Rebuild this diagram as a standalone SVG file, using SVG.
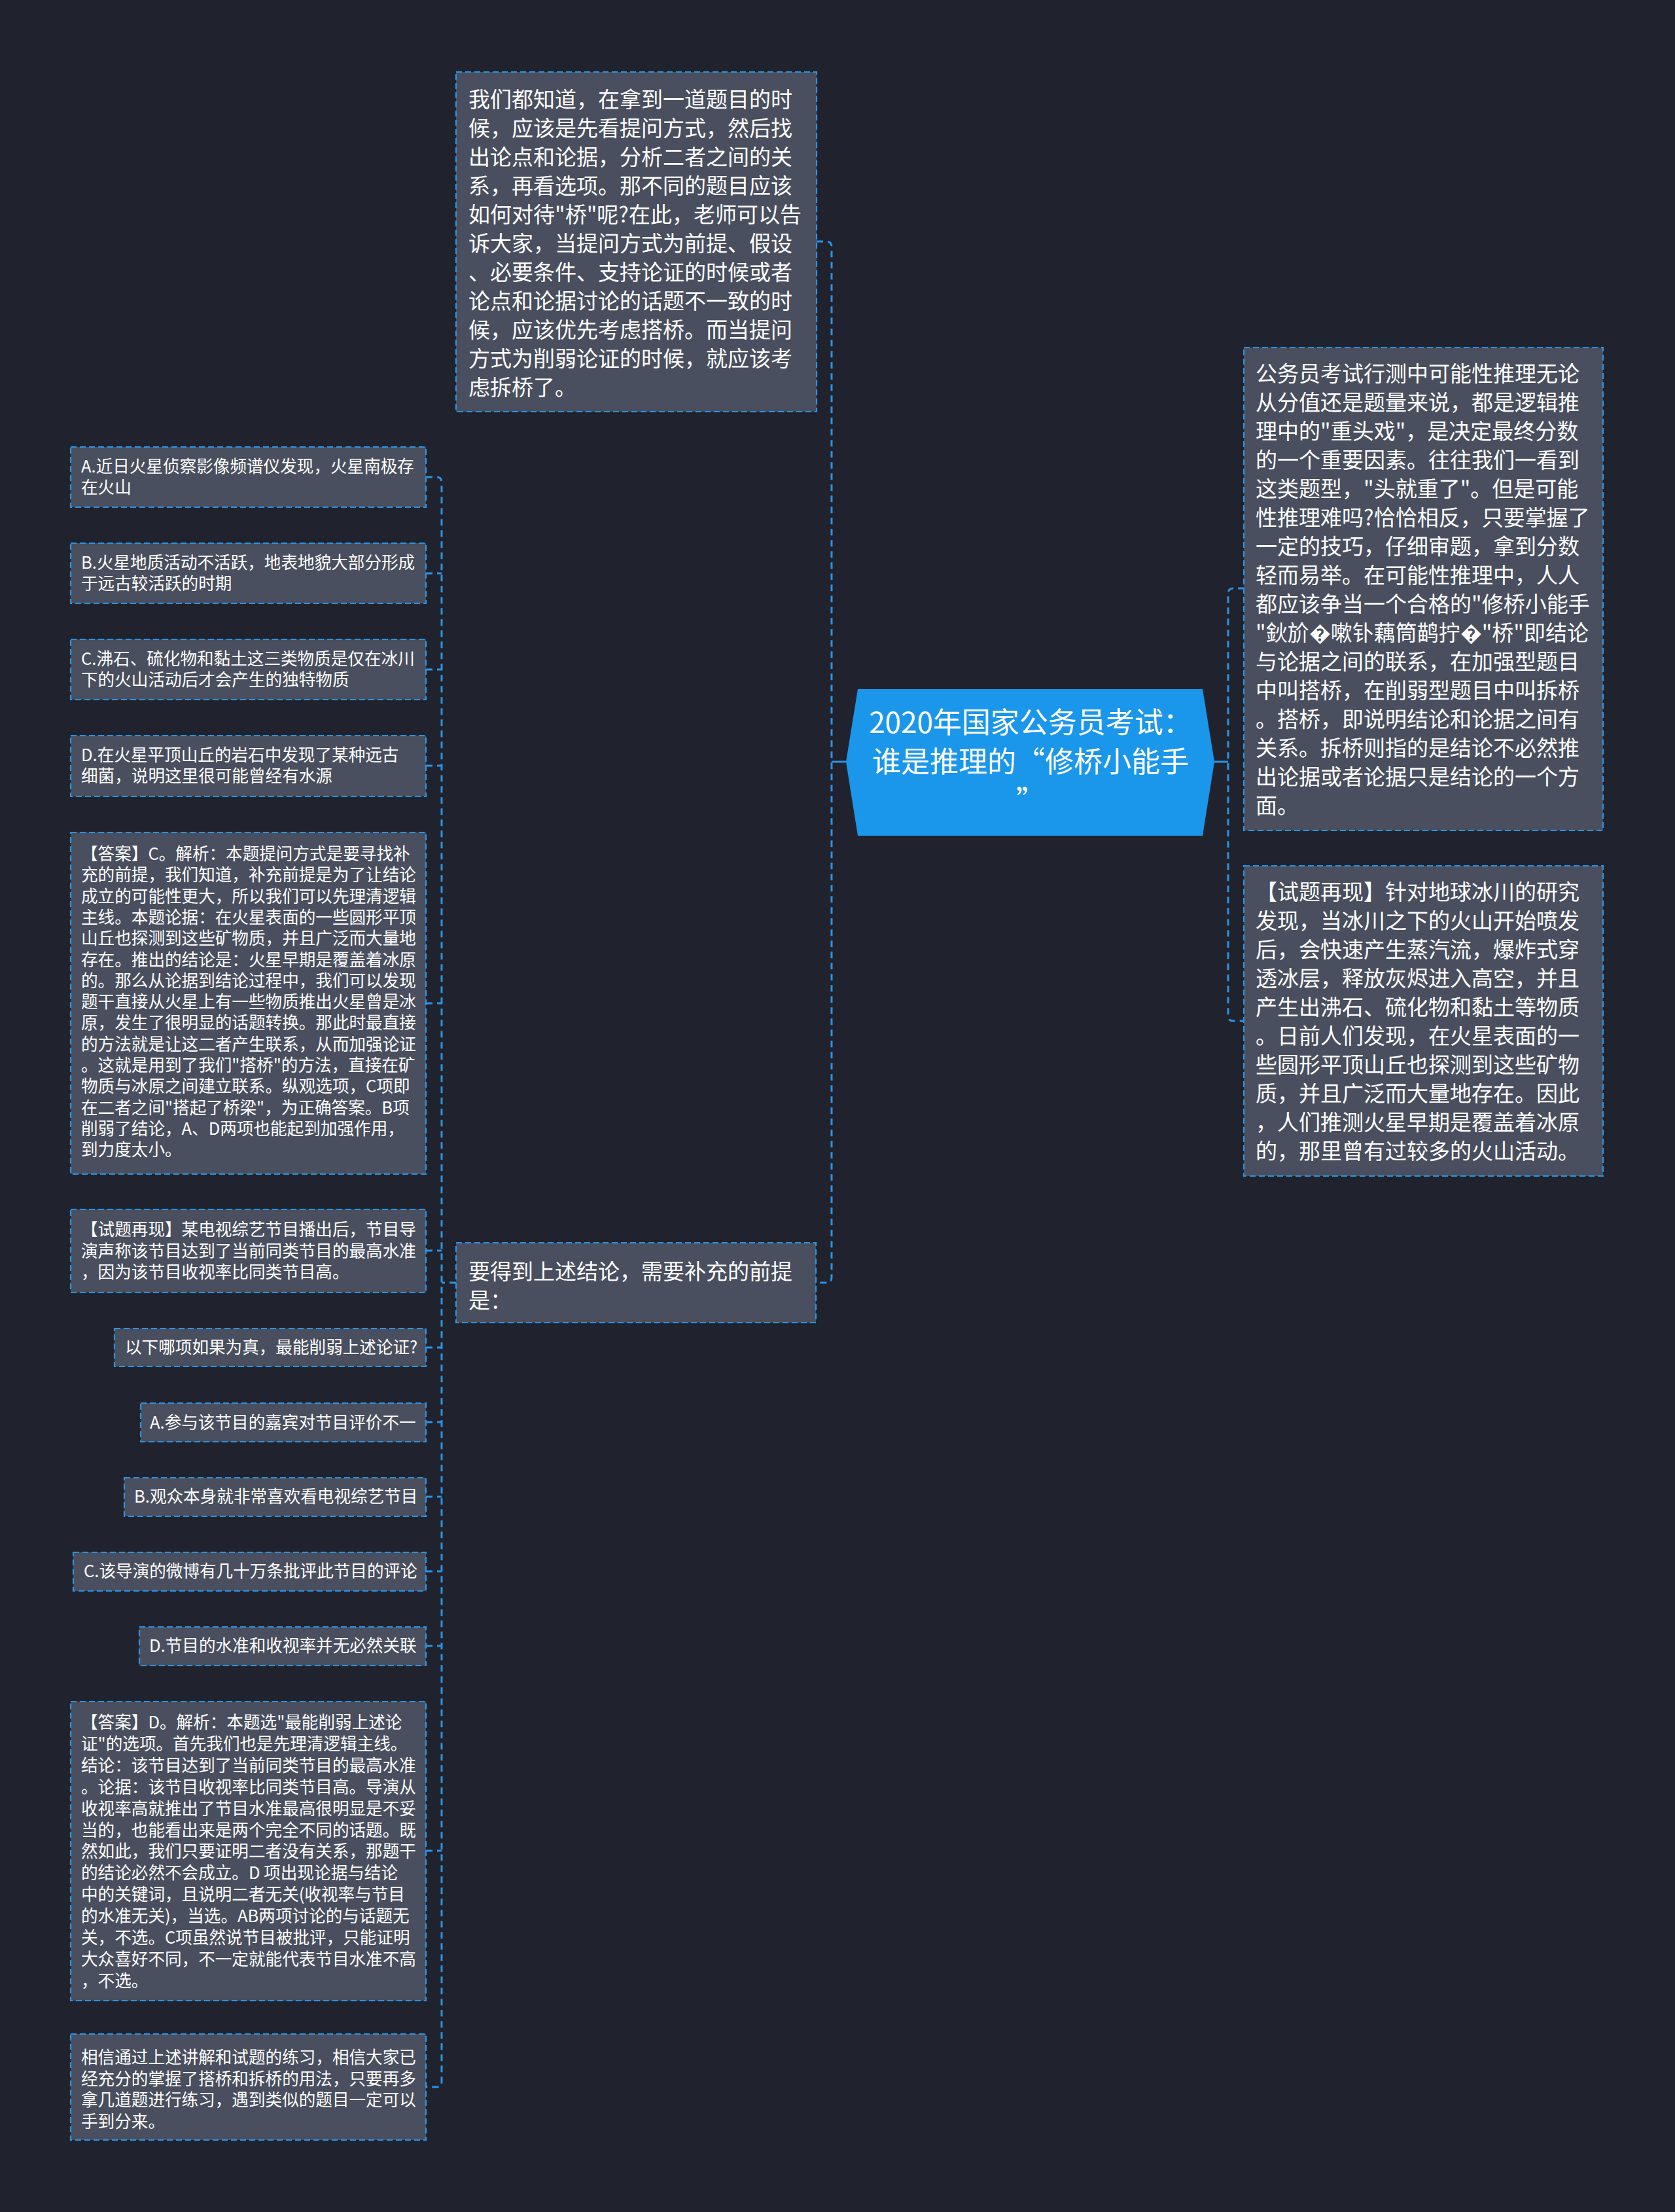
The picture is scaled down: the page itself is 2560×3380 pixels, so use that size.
<svg xmlns="http://www.w3.org/2000/svg" width="2560" height="3380" viewBox="0 0 2560 3380">
<style>
.bg{fill:#20232e}
.box{fill:#494f5e;stroke:#2a94e6;stroke-width:2.2;stroke-dasharray:9 5}
.t{fill:#ffffff;font-family:"Noto Sans CJK SC","Liberation Sans",sans-serif}
.s{font-size:25.6px}
.l{font-size:33px}
.c{font-size:44px;text-anchor:middle}
.conn{fill:none;stroke:#2a94e6;stroke-width:3;stroke-dasharray:10 7}
.solid{fill:none;stroke:#2a94e6;stroke-width:3}
</style>
<rect class="bg" x="0" y="0" width="2560" height="3380"/>

<g id="connectors">
  <path class="solid" d="M1293 1164 H1271"/>
  <path class="conn" d="M1248 369 H1263 Q1271 369 1271 377 V1952 Q1271 1960 1263 1960 H1248"/>
  <path class="solid" d="M1856 1164 H1877"/>
  <path class="conn" d="M1902 899 H1885 Q1877 899 1877 907 V1552 Q1877 1560 1885 1560 H1902"/>
  <path class="conn" d="M697 1960 H675"/>
  <path class="conn" d="M651 729 H667 Q675 729 675 737 V3181 Q675 3189 667 3189 H651"/>
  <path class="conn" d="M651 876 H675 M651 1023 H675 M651 1170 H675 M651 1533 H675 M651 1911 H675 M651 2059 H675 M651 2173 H675 M651 2287 H675 M651 2401 H675 M651 2515 H675 M651 2828 H675"/>
</g>

<g id="center">
  <polygon points="1293,1164 1311,1053 1838,1053 1856,1164 1838,1277 1311,1277" fill="#1a96ea"/>
  <text class="t c"><tspan x="1575" y="1120">2020年国家公务员考试：</tspan><tspan x="1575" y="1180">谁是推理的“修桥小能手</tspan><tspan x="1575" y="1240">”</tspan></text>
</g>

<g id="n-intro">
  <rect class="box" x="697" y="110" width="551" height="519"/>
  <text class="t l"><tspan x="716" y="164">我们都知道，在拿到一道题目的时</tspan><tspan x="716" y="208">候，应该是先看提问方式，然后找</tspan><tspan x="716" y="252">出论点和论据，分析二者之间的关</tspan><tspan x="716" y="296">系，再看选项。那不同的题目应该</tspan><tspan x="716" y="340">如何对待"桥"呢?在此，老师可以告</tspan><tspan x="716" y="384">诉大家，当提问方式为前提、假设</tspan><tspan x="716" y="428">、必要条件、支持论证的时候或者</tspan><tspan x="716" y="472">论点和论据讨论的话题不一致的时</tspan><tspan x="716" y="516">候，应该优先考虑搭桥。而当提问</tspan><tspan x="716" y="560">方式为削弱论证的时候，就应该考</tspan><tspan x="716" y="604">虑拆桥了。</tspan></text>
</g>

<g id="n-right1">
  <rect class="box" x="1901" y="531" width="549" height="738"/>
  <text class="t l"><tspan x="1919" y="583">公务员考试行测中可能性推理无论</tspan><tspan x="1919" y="627">从分值还是题量来说，都是逻辑推</tspan><tspan x="1919" y="671">理中的"重头戏"，是决定最终分数</tspan><tspan x="1919" y="715">的一个重要因素。往往我们一看到</tspan><tspan x="1919" y="759">这类题型，"头就重了"。但是可能</tspan><tspan x="1919" y="803">性推理难吗?恰恰相反，只要掌握了</tspan><tspan x="1919" y="847">一定的技巧，仔细审题，拿到分数</tspan><tspan x="1919" y="891">轻而易举。在可能性推理中，人人</tspan><tspan x="1919" y="935">都应该争当一个合格的"修桥小能手</tspan><tspan x="1919" y="979">"鈥斺�嗽钋藕筒鹋拧�"桥"即结论</tspan><tspan x="1919" y="1023">与论据之间的联系，在加强型题目</tspan><tspan x="1919" y="1067">中叫搭桥，在削弱型题目中叫拆桥</tspan><tspan x="1919" y="1111">。搭桥，即说明结论和论据之间有</tspan><tspan x="1919" y="1155">关系。拆桥则指的是结论不必然推</tspan><tspan x="1919" y="1199">出论据或者论据只是结论的一个方</tspan><tspan x="1919" y="1243">面。</tspan></text>
</g>

<g id="n-right2">
  <rect class="box" x="1901" y="1323" width="549" height="474"/>
  <text class="t l"><tspan x="1919" y="1375">【试题再现】针对地球冰川的研究</tspan><tspan x="1919" y="1419">发现，当冰川之下的火山开始喷发</tspan><tspan x="1919" y="1463">后，会快速产生蒸汽流，爆炸式穿</tspan><tspan x="1919" y="1507">透冰层，释放灰烬进入高空，并且</tspan><tspan x="1919" y="1551">产生出沸石、硫化物和黏土等物质</tspan><tspan x="1919" y="1595">。日前人们发现，在火星表面的一</tspan><tspan x="1919" y="1639">些圆形平顶山丘也探测到这些矿物</tspan><tspan x="1919" y="1683">质，并且广泛而大量地存在。因此</tspan><tspan x="1919" y="1727">，人们推测火星早期是覆盖着冰原</tspan><tspan x="1919" y="1771">的，那里曾有过较多的火山活动。</tspan></text>
</g>

<g id="n-premise">
  <rect class="box" x="697" y="1899" width="550" height="122"/>
  <text class="t l"><tspan x="716" y="1955">要得到上述结论，需要补充的前提</tspan><tspan x="716" y="1999">是：</tspan></text>
</g>

<g id="n-optA">
  <rect class="box" x="108" y="683" width="543" height="92"/>
  <text class="t s"><tspan x="124" y="722">A.近日火星侦察影像频谱仪发现，火星南极存</tspan><tspan x="124" y="754">在火山</tspan></text>
</g>
<g id="n-optB">
  <rect class="box" x="108" y="830" width="543" height="92"/>
  <text class="t s"><tspan x="124" y="869">B.火星地质活动不活跃，地表地貌大部分形成</tspan><tspan x="124" y="901">于远古较活跃的时期</tspan></text>
</g>
<g id="n-optC">
  <rect class="box" x="108" y="977" width="543" height="92"/>
  <text class="t s"><tspan x="124" y="1016">C.沸石、硫化物和黏土这三类物质是仅在冰川</tspan><tspan x="124" y="1048">下的火山活动后才会产生的独特物质</tspan></text>
</g>
<g id="n-optD">
  <rect class="box" x="108" y="1124" width="543" height="93"/>
  <text class="t s"><tspan x="124" y="1163">D.在火星平顶山丘的岩石中发现了某种远古</tspan><tspan x="124" y="1195">细菌，说明这里很可能曾经有水源</tspan></text>
</g>

<g id="n-answer1">
  <rect class="box" x="108" y="1272" width="543" height="522"/>
  <text class="t s"><tspan x="124" y="1314">【答案】C。解析：本题提问方式是要寻找补</tspan><tspan x="124" y="1346.3">充的前提，我们知道，补充前提是为了让结论</tspan><tspan x="124" y="1378.6">成立的可能性更大，所以我们可以先理清逻辑</tspan><tspan x="124" y="1410.9">主线。本题论据：在火星表面的一些圆形平顶</tspan><tspan x="124" y="1443.2">山丘也探测到这些矿物质，并且广泛而大量地</tspan><tspan x="124" y="1475.5">存在。推出的结论是：火星早期是覆盖着冰原</tspan><tspan x="124" y="1507.8">的。那么从论据到结论过程中，我们可以发现</tspan><tspan x="124" y="1540.1">题干直接从火星上有一些物质推出火星曾是冰</tspan><tspan x="124" y="1572.4">原，发生了很明显的话题转换。那此时最直接</tspan><tspan x="124" y="1604.7">的方法就是让这二者产生联系，从而加强论证</tspan><tspan x="124" y="1637">。这就是用到了我们"搭桥"的方法，直接在矿</tspan><tspan x="124" y="1669.3">物质与冰原之间建立联系。纵观选项，C项即</tspan><tspan x="124" y="1701.6">在二者之间"搭起了桥梁"，为正确答案。B项</tspan><tspan x="124" y="1733.9">削弱了结论，A、D两项也能起到加强作用，</tspan><tspan x="124" y="1766.2">到力度太小。</tspan></text>
</g>

<g id="n-question2">
  <rect class="box" x="108" y="1848" width="543" height="127"/>
  <text class="t s"><tspan x="124" y="1888">【试题再现】某电视综艺节目播出后，节目导</tspan><tspan x="124" y="1921">演声称该节目达到了当前同类节目的最高水准</tspan><tspan x="124" y="1953">，因为该节目收视率比同类节目高。</tspan></text>
</g>

<g id="n-ask">
  <rect class="box" x="175" y="2030" width="476" height="58"/>
  <text class="t s" x="191" y="2068">以下哪项如果为真，最能削弱上述论证?</text>
</g>
<g id="n-opt2A">
  <rect class="box" x="215" y="2144" width="436" height="59"/>
  <text class="t s" x="229" y="2183">A.参与该节目的嘉宾对节目评价不一</text>
</g>
<g id="n-opt2B">
  <rect class="box" x="190" y="2258" width="461" height="59"/>
  <text class="t s" x="205" y="2296">B.观众本身就非常喜欢看电视综艺节目</text>
</g>
<g id="n-opt2C">
  <rect class="box" x="112" y="2372" width="539" height="59"/>
  <text class="t s" x="128" y="2410">C.该导演的微博有几十万条批评此节目的评论</text>
</g>
<g id="n-opt2D">
  <rect class="box" x="213" y="2486" width="438" height="59"/>
  <text class="t s" x="228" y="2524">D.节目的水准和收视率并无必然关联</text>
</g>

<g id="n-answer2">
  <rect class="box" x="108" y="2600" width="543" height="457"/>
  <text class="t s"><tspan x="124" y="2641">【答案】D。解析：本题选"最能削弱上述论</tspan><tspan x="124" y="2673.9">证"的选项。首先我们也是先理清逻辑主线。</tspan><tspan x="124" y="2706.8">结论：该节目达到了当前同类节目的最高水准</tspan><tspan x="124" y="2739.7">。论据：该节目收视率比同类节目高。导演从</tspan><tspan x="124" y="2772.6">收视率高就推出了节目水准最高很明显是不妥</tspan><tspan x="124" y="2805.5">当的，也能看出来是两个完全不同的话题。既</tspan><tspan x="124" y="2838.4">然如此，我们只要证明二者没有关系，那题干</tspan><tspan x="124" y="2871.3">的结论必然不会成立。D 项出现论据与结论</tspan><tspan x="124" y="2904.2">中的关键词，且说明二者无关(收视率与节目</tspan><tspan x="124" y="2937.1">的水准无关)，当选。AB两项讨论的与话题无</tspan><tspan x="124" y="2970">关，不选。C项虽然说节目被批评，只能证明</tspan><tspan x="124" y="3002.9">大众喜好不同，不一定就能代表节目水准不高</tspan><tspan x="124" y="3035.8">，不选。</tspan></text>
</g>

<g id="n-summary">
  <rect class="box" x="108" y="3108" width="543" height="162"/>
  <text class="t s"><tspan x="124" y="3153">相信通过上述讲解和试题的练习，相信大家已</tspan><tspan x="124" y="3185.5">经充分的掌握了搭桥和拆桥的用法，只要再多</tspan><tspan x="124" y="3218">拿几道题进行练习，遇到类似的题目一定可以</tspan><tspan x="124" y="3250.5">手到分来。</tspan></text>
</g>
</svg>
